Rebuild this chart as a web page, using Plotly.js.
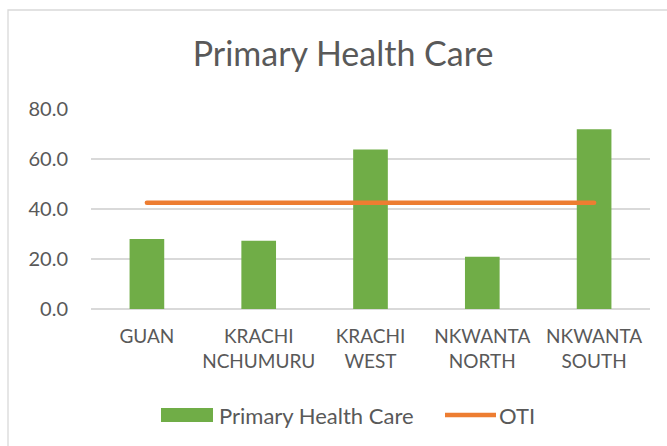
<!DOCTYPE html>
<html>
<head>
<meta charset="utf-8">
<script src="https://cdn.plot.ly/plotly-3.0.1.min.js"></script>
<style>
html,body{margin:0;padding:0;background:#fff;}
#chart{width:667px;height:446px;}
.scatterlayer path.js-line{stroke-linecap:round;}
</style>
</head>
<body>
<div id="chart"></div>
<script>
var categories = ["GUAN", "KRACHI<br>NCHUMURU", "KRACHI<br>WEST", "NKWANTA<br>NORTH", "NKWANTA<br>SOUTH"];
var primaryHealthCare = [28.0, 27.3, 63.8, 20.9, 71.9];
var oti = [42.5, 42.5, 42.5, 42.5, 42.5];
var yTicks = [0, 20, 40, 60, 80];

var FONT = "Lato, 'Open Sans', sans-serif";
var GRAY = "#595959";

var L = 91, R = 650, T = 109, B = 309;
function px(x){ return (x - L) / (R - L); }
function py(y){ return (B - y) / (B - T); }

var traces = [
  {
    type: "bar",
    name: "Primary Health Care",
    x: categories,
    y: primaryHealthCare,
    marker: {color: "#70ad47", line: {width: 0}},
    showlegend: false,
    hoverinfo: "x+y"
  },
  {
    type: "scatter",
    mode: "lines",
    name: "OTI",
    x: categories,
    y: oti,
    line: {color: "#ed7d31", width: 4.5},
    showlegend: false
  }
];

var layout = {
  width: 667,
  height: 446,
  margin: {l: L, r: 667 - R, t: T, b: 446 - B, pad: 0},
  paper_bgcolor: "#ffffff",
  plot_bgcolor: "#ffffff",
  font: {family: FONT, color: GRAY, size: 20},
  title: {
    text: "Primary Health Care",
    font: {family: FONT, size: 34, color: GRAY},
    xref: "container",
    x: 343 / 667,
    xanchor: "center",
    yref: "container",
    y: 1 - 54 / 446,
    yanchor: "middle"
  },
  bargap: 0.69,
  xaxis: {
    type: "category",
    showline: false,
    showgrid: false,
    zeroline: false,
    ticks: "",
    tickfont: {family: FONT, size: 19, color: GRAY},
    ticklabelstandoff: 14,
    fixedrange: true
  },
  yaxis: {
    range: [0, 80],
    tickvals: yTicks,
    tickformat: ".1f",
    showline: false,
    showgrid: true,
    gridcolor: "#d9d9d9",
    gridwidth: 1.3,
    zeroline: true,
    zerolinecolor: "#d9d9d9",
    zerolinewidth: 1.3,
    ticks: "",
    tickfont: {family: FONT, size: 20, color: GRAY},
    ticklabelstandoff: 22,
    fixedrange: true
  },
  shapes: [
    {type: "rect", xref: "paper", yref: "paper",
     x0: px(8), x1: px(700), y0: py(480), y1: py(10),
     line: {color: "#d9d9d9", width: 1.3}, fillcolor: "rgba(0,0,0,0)", layer: "below"},
    {type: "rect", xref: "paper", yref: "paper",
     x0: px(161), x1: px(213), y0: py(422), y1: py(408),
     line: {width: 0}, fillcolor: "#70ad47"},
    {type: "line", xref: "paper", yref: "paper",
     x0: px(445), x1: px(496), y0: py(415), y1: py(415),
     line: {color: "#ed7d31", width: 4.5}}
  ],
  annotations: [
    {text: "Primary Health Care", xref: "paper", yref: "paper",
     x: px(217), y: py(415), xanchor: "left", yanchor: "middle",
     showarrow: false, font: {family: FONT, size: 22, color: GRAY}},
    {text: "OTI", xref: "paper", yref: "paper",
     x: px(497), y: py(415), xanchor: "left", yanchor: "middle",
     showarrow: false, font: {family: FONT, size: 22, color: GRAY}}
  ]
};

Plotly.newPlot("chart", traces, layout, {displayModeBar: false, staticPlot: true});
</script>
</body>
</html>
